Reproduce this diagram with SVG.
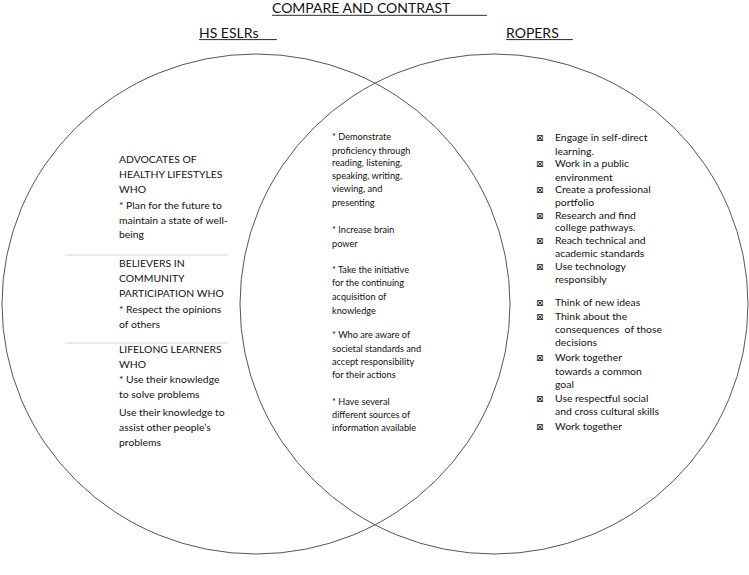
<svg xmlns="http://www.w3.org/2000/svg" width="749" height="575" viewBox="0 0 749 575">
<style>
text{font-family:Lato,"Liberation Sans",sans-serif;fill:#111}
.h{font-size:14px}
.l{font-size:10.4px}
.m{font-size:9.2px}
.r{font-size:10.4px}
.b{font-family:"DejaVu Sans",sans-serif;font-size:9px}
.ul{stroke:#111;stroke-width:0.9}
.div{stroke:#d8d8d8;stroke-width:1}
.circ{fill:none;stroke:#555;stroke-width:1}
</style>
<rect width="749" height="575" fill="#fff"/>
<g id="title">
<text class="h" x="272" y="13.3">COMPARE AND CONTRAST</text>
<line class="ul" x1="272" y1="15.3" x2="487" y2="15.3"/>
</g>
<g id="sets">
<ellipse id="hs-eslrs-circle" class="circ" cx="256" cy="304" rx="254" ry="250"/>
<ellipse id="ropers-circle" class="circ" cx="494" cy="304" rx="254" ry="250"/>
</g>
<g id="hs-eslrs-label">
<text class="h" x="199" y="37.7">HS ESLRs</text>
<line class="ul" x1="199" y1="39.6" x2="277" y2="39.6"/>
</g>
<g id="ropers-label">
<text class="h" x="506" y="37.7">ROPERS</text>
<line class="ul" x1="506" y1="39.6" x2="573" y2="39.6"/>
</g>
<g id="hs-eslrs-items" class="l">
<text x="119" y="163">ADVOCATES OF</text>
<text x="119" y="178">HEALTHY LIFESTYLES</text>
<text x="119" y="193">WHO</text>
<text x="119" y="209">* Plan for the future to</text>
<text x="119" y="223.5">maintain a state of well-</text>
<text x="119" y="237.5">being</text>
<line class="div" x1="65" y1="255" x2="228" y2="255"/>
<text x="119" y="266.5">BELIEVERS IN</text>
<text x="119" y="281.5">COMMUNITY</text>
<text x="119" y="296.5">PARTICIPATION WHO</text>
<text x="119" y="313">* Respect the opinions</text>
<text x="119" y="328">of others</text>
<line class="div" x1="65" y1="343" x2="228" y2="343"/>
<text x="119" y="353">LIFELONG LEARNERS</text>
<text x="119" y="368">WHO</text>
<text x="119" y="383">* Use their knowledge</text>
<text x="119" y="398">to solve problems</text>
<text x="119" y="416">Use their knowledge to</text>
<text x="119" y="431">assist other people’s</text>
<text x="119" y="446">problems</text>
</g>
<g id="shared-items" class="m">
<text x="332" y="139.5">* Demonstrate</text>
<text x="332" y="153.5">proficiency through</text>
<text x="332" y="166">reading, listening,</text>
<text x="332" y="179">speaking, writing,</text>
<text x="332" y="192">viewing, and</text>
<text x="332" y="205.5">presenting</text>
<text x="332" y="233">* Increase brain</text>
<text x="332" y="247">power</text>
<text x="332" y="273">* Take the initiative</text>
<text x="332" y="286">for the continuing</text>
<text x="332" y="299.5">acquisition of</text>
<text x="332" y="314">knowledge</text>
<text x="332" y="338">* Who are aware of</text>
<text x="332" y="352">societal standards and</text>
<text x="332" y="364.5">accept responsibility</text>
<text x="332" y="378">for their actions</text>
<text x="332" y="404.5">* Have several</text>
<text x="332" y="418">different sources of</text>
<text x="332" y="431">information available</text>
</g>
<g id="ropers-items" class="r">
<text class="b" x="536" y="141">⊠</text><text x="555" y="141">Engage in self-direct</text>
<text x="555" y="155">learning.</text>
<text class="b" x="536" y="167">⊠</text><text x="555" y="167">Work in a public</text>
<text x="555" y="180.5">environment</text>
<text class="b" x="536" y="193">⊠</text><text x="555" y="193">Create a professional</text>
<text x="555" y="206">portfolio</text>
<text class="b" x="536" y="218.5">⊠</text><text x="555" y="218.5">Research and find</text>
<text x="555" y="231">college pathways.</text>
<text class="b" x="536" y="244">⊠</text><text x="555" y="244">Reach technical and</text>
<text x="555" y="257">academic standards</text>
<text class="b" x="536" y="269.5">⊠</text><text x="555" y="269.5">Use technology</text>
<text x="555" y="283">responsibly</text>
<text class="b" x="536" y="306">⊠</text><text x="555" y="306">Think of new ideas</text>
<text class="b" x="536" y="319.5">⊠</text><text x="555" y="319.5">Think about the</text>
<text x="555" y="333" xml:space="preserve">consequences  of those</text>
<text x="555" y="346">decisions</text>
<text class="b" x="536" y="361">⊠</text><text x="555" y="361">Work together</text>
<text x="555" y="374.5">towards a common</text>
<text x="555" y="388">goal</text>
<text class="b" x="536" y="402">⊠</text><text x="555" y="402">Use respectful social</text>
<text x="555" y="415">and cross cultural skills</text>
<text class="b" x="536" y="429.5">⊠</text><text x="555" y="429.5">Work together</text>
</g>
</svg>
